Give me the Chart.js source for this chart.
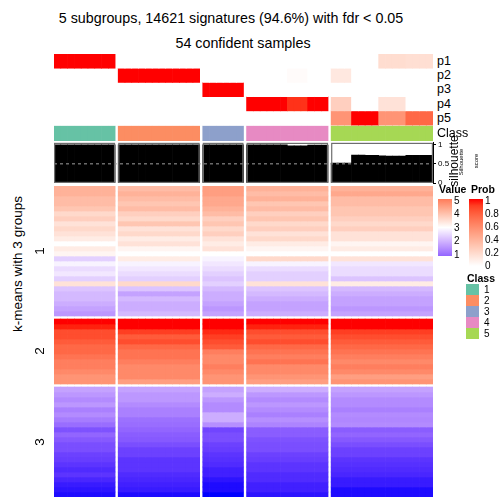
<!DOCTYPE html>
<html>
<head>
<meta charset="utf-8">
<script src="https://cdn.jsdelivr.net/npm/chart.js@4.4.1/dist/chart.umd.min.js"></script>
<style>
  body { margin: 0; background: #fff; font-family: "Liberation Sans", Arial, sans-serif; }
  #wrap { position: relative; width: 504px; height: 504px; overflow: hidden; }
  canvas { position: absolute; }
  .t { position: absolute; white-space: nowrap; color: #000; line-height: 1; }
  .c { transform: translate(-50%, -50%); }
  .l { transform: translateY(-50%); }
  .r { transform: translate(-50%, -50%) rotate(-90deg); }
  .b { font-weight: bold; }
  .bar { position: absolute; width: 14px; }
  .sq { position: absolute; width: 13px; height: 11px; }
</style>
</head>
<body>
<div id="wrap">
  <div class="t c" style="left:231px;top:18px;font-size:14.3px">5 subgroups, 14621 signatures (94.6%) with fdr &lt; 0.05</div>
  <div class="t c" style="left:243px;top:43px;font-size:14.3px">54 confident samples</div>

  <canvas id="annot" width="379" height="87" style="left:54px;top:54px"></canvas>
  <canvas id="silh" width="409" height="54" style="left:54px;top:136px"></canvas>
  <canvas id="heat" width="379" height="311" style="left:54px;top:186px"></canvas>

  <div class="t l" style="left:437px;top:61px;font-size:12.5px">p1</div>
  <div class="t l" style="left:437px;top:75px;font-size:12.5px">p2</div>
  <div class="t l" style="left:437px;top:89px;font-size:12.5px">p3</div>
  <div class="t l" style="left:437px;top:104px;font-size:12.5px">p4</div>
  <div class="t l" style="left:437px;top:118px;font-size:12.5px">p5</div>
  <div class="t l" style="left:437px;top:133px;font-size:12.5px">Class</div>

  <div class="t r" style="left:454px;top:161px;font-size:12px">silhouette</div>
  <div class="t r" style="left:461px;top:162px;font-size:6px">Silhouette</div>
  <div class="t r" style="left:476px;top:161px;font-size:6px">score</div>

  <div class="t r" style="left:18px;top:264px;font-size:13.5px">k-means with 3 groups</div>
  <div class="t r" style="left:40px;top:251px;font-size:13.5px">1</div>
  <div class="t r" style="left:40px;top:351px;font-size:13.5px">2</div>
  <div class="t r" style="left:40px;top:442px;font-size:13.5px">3</div>

  <div class="t l b" style="left:439px;top:189px;font-size:10.5px">Value</div>
  <div class="t l b" style="left:471px;top:189px;font-size:10.5px">Prob</div>
  <div id="valueBar" class="bar" style="left:438px;top:199px;height:57px"></div>
  <div id="probBar" class="bar" style="left:469px;top:199px;height:67px"></div>
  <div class="t l" style="left:454px;top:201px;font-size:10px">5</div>
  <div class="t l" style="left:454px;top:214px;font-size:10px">4</div>
  <div class="t l" style="left:454px;top:228px;font-size:10px">3</div>
  <div class="t l" style="left:454px;top:241px;font-size:10px">2</div>
  <div class="t l" style="left:454px;top:255px;font-size:10px">1</div>
  <div class="t l" style="left:485px;top:201px;font-size:10px">1</div>
  <div class="t l" style="left:485px;top:214px;font-size:10px">0.8</div>
  <div class="t l" style="left:485px;top:227px;font-size:10px">0.6</div>
  <div class="t l" style="left:485px;top:240px;font-size:10px">0.4</div>
  <div class="t l" style="left:485px;top:253px;font-size:10px">0.2</div>
  <div class="t l" style="left:485px;top:266px;font-size:10px">0</div>

  <div class="t l b" style="left:467px;top:278px;font-size:10.5px">Class</div>
  <div id="classLegend"></div>
</div>
<script>
// --- data ---
const classNames = ['1', '2', '3', '4', '5'];
const classColors = ['#66C2A5', '#FC8D62', '#8DA0CB', '#E78AC3', '#A6D854'];
const groupSizes = [9, 12, 6, 12, 15];

const probP1 = [1,1,1,1,1,1,1,1,1, 0,0,0,0,0,0,0,0,0,0,0,0, 0,0,0,0,0,0, 0,0,0,0,0,0,0,0,0,0,0,0,
  0,0,0,0,0,0,0,0.18,0.18,0.18,0.18,0.17,0.17,0.17,0.17];
const probP2 = [0,0,0,0,0,0,0,0,0, 1,1,1,1,1,1,1,1,1,1,1,1, 0,0,0,0,0,0, 0,0,0,0,0,0,0.02,0.02,0.02,0,0,0,
  0.12,0.12,0.12,0,0,0,0,0,0,0,0,0,0,0,0];
const probP3 = [0,0,0,0,0,0,0,0,0, 0,0,0,0,0,0,0,0,0,0,0,0, 1,1,1,1,1,1, 0,0,0,0,0,0,0,0,0,0,0,0,
  0,0,0,0,0,0,0,0,0,0,0,0,0,0,0];
const probP4 = [0,0,0,0,0,0,0,0,0, 0,0,0,0,0,0,0,0,0,0,0,0, 0,0,0,0,0,0, 1,1,1,1,1,1,0.93,0.93,0.93,1,1,1,
  0.25,0.25,0.25,0,0,0,0,0.15,0.15,0.15,0.15,0,0,0,0];
const probP5 = [0,0,0,0,0,0,0,0,0, 0,0,0,0,0,0,0,0,0,0,0,0, 0,0,0,0,0,0, 0,0,0,0,0,0,0,0,0,0,0,0,
  0.55,0.55,0.55,1,1,1,1,0.55,0.55,0.55,0.55,0.75,0.75,0.75,0.75];

const silhouette = [1,1,1,1,1,1,1,1,1, 1,1,1,1,1,1,1,1,1,1,1,1, 1,1,1,1,1,1,
  1,1,1,1,1,1,0.97,0.97,0.97,0.99,0.99,0.99,
  0.52,0.52,0.52,0.73,0.73,0.72,0.72,0.71,0.70,0.70,0.70,0.72,0.72,0.72,0.72];
const silhouetteTicks = [0, 0.5, 1];

// heatmap rows, one value per sample class (1..5)
const heatRows1 = [
  [4.2,4.05,4.5,4.2,4.2], [4.2,4.2,4.5,4.05,4.35], [4.05,4.05,4.35,4.2,4.05], [4.05,3.9,4.35,3.9,4.05],
  [3.9,4.05,4.2,4.05,3.9], [3.6,3.75,4.05,3.75,3.9], [3.75,3.6,3.75,3.9,3.75], [3.45,3.9,3.9,3.6,3.6],
  [3.6,3.45,3.6,3.75,3.75], [3.45,3.6,3.75,3.45,3.45], [3.3,3.3,3.45,3.6,3.45], [3.0,3.45,3.3,3.3,3.15],
  [3.3,3.15,3.45,3.15,3.3], [3.15,3.0,3.0,3.0,3.0], [2.4,3.3,2.85,3.6,3.45], [2.85,2.85,2.7,2.85,2.7],
  [2.55,2.7,2.55,2.55,2.55], [2.7,2.55,2.4,2.4,2.55], [2.4,2.4,2.25,2.4,2.25], [3.45,3.6,2.4,3.45,3.3],
  [2.25,2.25,2.1,2.25,2.1], [2.1,1.8,1.95,2.1,1.95], [2.1,2.1,1.95,1.95,1.8], [1.95,1.95,1.8,1.8,1.8],
  [1.8,1.95,1.65,1.8,1.65], [1.65,2.1,1.8,1.95,1.8]
];
const heatRows2 = [
  [6.0,6.0,6.0,6.0,6.0], [5.9,6.0,6.0,5.9,6.0], [5.55,5.7,5.85,5.55,5.7], [5.55,5.4,5.7,5.4,5.55],
  [5.4,5.55,5.55,5.55,5.4], [5.25,5.25,5.4,5.25,5.25], [5.25,5.1,4.95,5.1,5.1], [5.1,5.1,4.8,4.95,4.95],
  [4.95,4.95,4.8,5.1,4.8], [4.95,4.8,4.95,4.8,4.95], [4.8,4.8,4.8,4.8,4.8], [4.65,4.8,4.65,4.65,4.5],
  [4.65,4.5,4.65,4.5,4.65]
];
const heatRows3 = [
  [1.8,1.8,1.8,1.95,1.8], [1.65,1.65,1.95,1.65,1.65], [1.5,1.65,1.65,1.5,1.5], [1.65,1.5,1.5,1.65,1.5],
  [1.35,1.35,1.5,1.5,1.35], [1.5,1.35,1.95,1.35,1.5], [1.3,1.15,1.95,1.55,1.45], [1.1,1.1,1.55,1.4,1.5],
  [0.75,1.0,0.6,0.9,0.9], [1.0,0.9,0.7,0.9,1.0], [0.85,0.85,0.7,0.75,0.85], [0.7,0.7,0.55,0.7,0.7],
  [0.7,0.55,0.5,0.7,0.55], [0.55,0.55,0.4,0.55,0.55], [0.5,0.4,0.35,0.5,0.4], [0.4,0.4,0.3,0.4,0.35],
  [0.3,0.4,0.2,0.4,0.3], [0.4,0.3,0.2,0.3,0.25], [0.25,0.25,0.1,0.3,0.15], [0.15,0.2,0.05,0.2,0.15],
  [0.1,0.15,0.05,0.2,0.05], [0.05,0.05,0.0,0.1,0.05]
];

// --- colours (LAB interpolation like colorRamp2) ---
function hexToRgb(h) { return [1, 3, 5].map(i => parseInt(h.slice(i, i + 2), 16)); }
function rgbToLab(c) {
  const lin = c.map(v => { v /= 255; return v <= 0.04045 ? v / 12.92 : Math.pow((v + 0.055) / 1.055, 2.4); });
  const X = (lin[0] * 0.4124 + lin[1] * 0.3576 + lin[2] * 0.1805) / 0.95047;
  const Y = lin[0] * 0.2126 + lin[1] * 0.7152 + lin[2] * 0.0722;
  const Z = (lin[0] * 0.0193 + lin[1] * 0.1192 + lin[2] * 0.9505) / 1.08883;
  const f = t => t > 0.008856 ? Math.cbrt(t) : 7.787 * t + 16 / 116;
  return [116 * f(Y) - 16, 500 * (f(X) - f(Y)), 200 * (f(Y) - f(Z))];
}
function labToRgb([L, a, b]) {
  const fy = (L + 16) / 116, fx = fy + a / 500, fz = fy - b / 200;
  const inv = t => t * t * t > 0.008856 ? t * t * t : (t - 16 / 116) / 7.787;
  const X = inv(fx) * 0.95047, Y = inv(fy), Z = inv(fz) * 1.08883;
  const rgb = [3.2406 * X - 1.5372 * Y - 0.4986 * Z, -0.9689 * X + 1.8758 * Y + 0.0415 * Z, 0.0557 * X - 0.2040 * Y + 1.0570 * Z];
  return rgb.map(v => {
    v = v <= 0.0031308 ? 12.92 * v : 1.055 * Math.pow(v, 1 / 2.4) - 0.055;
    return Math.round(Math.min(1, Math.max(0, v)) * 255);
  });
}
function colorRamp(breaks, hexes) {
  const labs = hexes.map(h => rgbToLab(hexToRgb(h)));
  return v => {
    v = Math.min(breaks[breaks.length - 1], Math.max(breaks[0], v));
    let i = 0;
    while (i < breaks.length - 2 && v > breaks[i + 1]) i++;
    const t = (v - breaks[i]) / (breaks[i + 1] - breaks[i]);
    const [r, g, b] = labToRgb(labs[i].map((c, k) => c + (labs[i + 1][k] - c) * t));
    return `rgb(${r},${g},${b})`;
  };
}
const valueColor = colorRamp([0, 3, 6], ['#0000ff', '#ffffff', '#ff0000']);
const probColor = colorRamp([0, 1], ['#ffffff', '#ff0000']);

// --- layout of columns ---
const GAP = 0.45;
const sampleGroup = [];
const sampleX = [];
const groupStart = [];
let idx = 0;
groupSizes.forEach((n, g) => {
  groupStart.push(idx + g * GAP);
  for (let k = 0; k < n; k++) {
    sampleGroup.push(g);
    sampleX.push(idx + 0.5 + g * GAP);
    idx++;
  }
});
const xMax = idx + (groupSizes.length - 1) * GAP;

const barBase = { type: 'bar', grouped: false, barPercentage: 1, categoryPercentage: 1, borderWidth: 0, order: 1 };
const common = {
  responsive: false,
  animation: false,
  events: [],
  layout: { padding: 0 },
  plugins: { legend: { display: false }, tooltip: { enabled: false } }
};
const xScale = { type: 'linear', min: 0, max: xMax, display: false, offset: false, ticks: { stepSize: 100 } };

// --- top annotation: probabilities + class ---
const probRows = [probP1, probP2, probP3, probP4, probP5];
const annotDatasets = probRows.map((p, r) => ({
  ...barBase,
  label: 'p' + (r + 1),
  data: sampleX.map(x => ({ x, y: [r, r + 1] })),
  backgroundColor: p.map(v => probColor(v))
}));
annotDatasets.push({
  ...barBase,
  label: 'Class',
  data: sampleX.map(x => ({ x, y: [5.07, 6.12] })),
  backgroundColor: sampleGroup.map(g => classColors[g])
});
new Chart(document.getElementById('annot'), {
  type: 'bar',
  data: { datasets: annotDatasets },
  options: {
    ...common,
    scales: { x: xScale, y: { type: 'linear', min: 0, max: 6.12, reverse: true, display: false } }
  }
});

// --- silhouette ---
const groupBoxes = {
  id: 'groupBoxes',
  afterDatasetsDraw(chart) {
    const { ctx, scales: { x, y } } = chart;
    ctx.save();
    ctx.strokeStyle = '#6e6e6e';
    ctx.lineWidth = 1.2;
    groupStart.forEach((s, g) => {
      const x0 = x.getPixelForValue(s), x1 = x.getPixelForValue(s + groupSizes[g]);
      const y0 = y.getPixelForValue(1.05), y1 = y.getPixelForValue(0);
      ctx.strokeRect(x0 + 0.6, y0 + 0.6, x1 - x0 - 1.2, y1 - y0 - 1.2);
    });
    ctx.restore();
  }
};
new Chart(document.getElementById('silh'), {
  type: 'bar',
  data: {
    datasets: [
      {
        type: 'line',
        data: [{ x: 0, y: 0.5 }, { x: xMax, y: 0.5 }],
        borderColor: '#a0a0a0',
        borderWidth: 1,
        borderDash: [3, 3],
        pointRadius: 0,
        order: 0
      },
      {
        ...barBase,
        label: 'silhouette',
        data: sampleX.map((x, i) => ({ x, y: silhouette[i] })),
        backgroundColor: '#000000'
      }
    ]
  },
  options: {
    ...common,
    layout: { padding: { top: 5, bottom: 7, left: 0, right: 0 } },
    scales: {
      x: xScale,
      y: {
        type: 'linear', min: 0, max: 1.05, position: 'right',
        afterBuildTicks: s => { s.ticks = silhouetteTicks.map(v => ({ value: v })); },
        afterFit: s => { s.width = 30; },
        ticks: { font: { size: 8, family: 'Liberation Sans' }, color: '#000', padding: 2, callback: v => String(v) },
        grid: { drawOnChartArea: false, tickLength: 3, color: '#000' },
        border: { color: '#000' }
      }
    }
  },
  plugins: [groupBoxes]
});

// --- main heatmap ---
const ROW_GAP = 0.6;
const heatDatasets = [];
let rowTop = 0;
[heatRows1, heatRows2, heatRows3].forEach(rows => {
  rows.forEach(row => {
    const top = rowTop;
    heatDatasets.push({
      ...barBase,
      data: sampleX.map(x => ({ x, y: [top, top + 1] })),
      backgroundColor: sampleGroup.map(g => valueColor(row[g]))
    });
    rowTop += 1;
  });
  rowTop += ROW_GAP;
});
new Chart(document.getElementById('heat'), {
  type: 'bar',
  data: { datasets: heatDatasets },
  options: {
    ...common,
    scales: { x: xScale, y: { type: 'linear', min: 0, max: rowTop - ROW_GAP, reverse: true, display: false } }
  }
});

// --- legends ---
const valueStops = [];
for (let v = 5; v >= 1; v -= 0.25) valueStops.push(valueColor(v) + ' ' + ((5 - v) / 4 * 100) + '%');
document.getElementById('valueBar').style.background = 'linear-gradient(to bottom,' + valueStops.join(',') + ')';
const probStops = [];
for (let p = 1; p >= 0; p -= 0.1) probStops.push(probColor(p) + ' ' + ((1 - p) * 100).toFixed(1) + '%');
document.getElementById('probBar').style.background = 'linear-gradient(to bottom,' + probStops.join(',') + ')';

const legend = document.getElementById('classLegend');
classNames.forEach((name, i) => {
  const sq = document.createElement('div');
  sq.className = 'sq';
  sq.style.left = '466px';
  sq.style.top = (284 + i * 11) + 'px';
  sq.style.background = classColors[i];
  legend.appendChild(sq);
  const lab = document.createElement('div');
  lab.className = 't l';
  lab.style.left = '484px';
  lab.style.top = (289.5 + i * 11) + 'px';
  lab.style.fontSize = '10px';
  lab.textContent = name;
  legend.appendChild(lab);
});
</script>
</body>
</html>
